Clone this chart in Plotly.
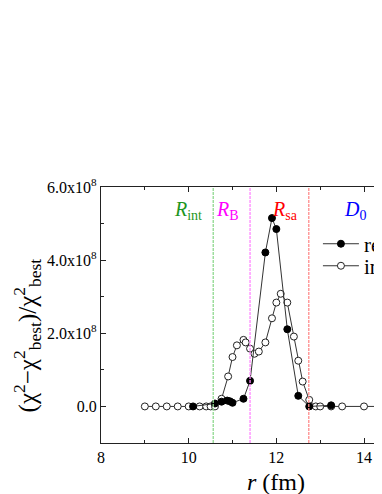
import plotly.graph_objects as go

# ---- data (y in units of 1e8) ----
r_real = [10.1, 10.6, 10.75, 10.88, 10.94, 11.0, 11.25, 11.4, 11.75, 11.9, 12.0, 12.25, 12.5, 12.75, 13.25]
chi_real = [0.0, 0.08, 0.13, 0.16, 0.14, 0.10, 0.21, 0.70, 4.21, 5.15, 4.85, 2.11, 0.29, 0.0, 0.03]

r_imag = [9.0, 9.25, 9.5, 9.75, 10.0, 10.25, 10.4, 10.5, 10.6, 10.75, 10.9, 11.0, 11.1, 11.25, 11.3,
          11.4, 11.5, 11.6, 11.75, 11.9, 12.0, 12.1, 12.25, 12.4, 12.5, 12.6, 12.75, 12.9, 13.0,
          13.25, 13.5, 14.0, 14.5]
chi_imag = [0.0, 0.0, 0.0, 0.0, 0.0, 0.0, 0.0, 0.0, 0.0, 0.21, 0.82, 1.35, 1.67, 1.82, 1.75,
            1.58, 1.44, 1.50, 1.75, 2.41, 2.84, 3.08, 2.84, 1.91, 1.25, 0.68, 0.18, 0.0, 0.0,
            0.0, 0.0, 0.0, 0.0]

series_names = ["real", "imaginary"]

ref_positions = [10.56, 11.40, 12.74, 14.29]
ref_labels = ["<i>R</i><sub>int</sub>", "<i>R</i><sub>B</sub>", "<i>R</i><sub>sa</sub>", "<i>D</i><sub>0</sub>"]
ref_text_colors = ["#1e961e", "#ff00ff", "#ff0000", "#0000ff"]
ref_line_colors = ["#8fd88f", "#ff88ff", "#ff8c8c", "#8c8cff"]

y_tickvals = [0.0, 2.0, 4.0, 6.0]
y_ticktext = ["0.0", "2.0x10<sup>8</sup>", "4.0x10<sup>8</sup>", "6.0x10<sup>8</sup>"]
x_tickvals = [8, 10, 12, 14]
scale = 1e8

FONT = "Liberation Serif, Times New Roman, serif"

fig = go.Figure()

fig.add_trace(go.Scatter(
    x=r_imag, y=[v * scale for v in chi_imag], mode="lines+markers", name=series_names[1],
    legend="legend2",
    line=dict(color="#333333", width=1),
    marker=dict(symbol="circle", size=7, color="white", line=dict(color="#222222", width=1)),
))
fig.add_trace(go.Scatter(
    x=r_real, y=[v * scale for v in chi_real], mode="lines+markers", name=series_names[0],
    legend="legend",
    line=dict(color="#333333", width=1),
    marker=dict(symbol="circle", size=7, color="black", line=dict(color="black", width=1)),
))

for xpos, lab, tc, lc in zip(ref_positions, ref_labels, ref_text_colors, ref_line_colors):
    fig.add_vline(x=xpos, line=dict(color=lc, width=1.3, dash="3px,1px"))
    fig.add_annotation(x=xpos, y=5.37 * scale, xref="x", yref="y", text=lab, showarrow=False,
                       xanchor="right", yanchor="middle", xshift=-9,
                       font=dict(family=FONT, size=20, color=tc))

# axis titles as annotations (original plot was cropped at the right)
fig.add_annotation(x=12, y=-0.152, xref="x", yref="paper", text="<i>r</i> (fm)", showarrow=False,
                   xanchor="center", yanchor="middle", font=dict(family=FONT, size=24, color="black"))
fig.add_annotation(x=-0.26, y=0.42, xref="paper", yref="paper",
                   text="(χ<sup>2</sup>−χ<sup>2</sup><sub>best</sub>)/χ<sup>2</sup><sub>best</sub>",
                   showarrow=False, textangle=-90, xanchor="center", yanchor="middle",
                   font=dict(family=FONT, size=25, color="black"))

leg_common = dict(xanchor="left", yanchor="middle", bgcolor="rgba(0,0,0,0)",
                  font=dict(family=FONT, size=21, color="black"), itemwidth=36)

fig.update_layout(
    width=374, height=486,
    margin=dict(l=93, r=0, t=179, b=51, autoexpand=False),
    paper_bgcolor="white", plot_bgcolor="white",
    font=dict(family=FONT, size=16, color="black"),
    showlegend=True,
    legend=dict(x=0.772, y=0.777, **leg_common),
    legend2=dict(x=0.772, y=0.691, **leg_common),
    xaxis=dict(range=[8, 14.41], tickvals=x_tickvals, ticks="inside", ticklen=5, tickwidth=1,
               showgrid=False, zeroline=False, showline=True, linecolor="#222222", linewidth=1.3,
               mirror="ticks", tickcolor="#222222",
               minor=dict(dtick=1, ticks="inside", ticklen=3, tickcolor="#222222", showgrid=False),
               tickfont=dict(family=FONT, size=16)),
    yaxis=dict(range=[-1e8, 6e8], tickvals=[v * scale for v in y_tickvals], ticktext=y_ticktext,
               ticks="inside", ticklen=5, tickwidth=1, showgrid=False, zeroline=False,
               showline=True, linecolor="#222222", linewidth=1.3, tickcolor="#222222",
               minor=dict(dtick=1e8, ticks="inside", ticklen=3, tickcolor="#222222", showgrid=False),
               tickfont=dict(family=FONT, size=16)),
)

fig.write_html("out.html")
